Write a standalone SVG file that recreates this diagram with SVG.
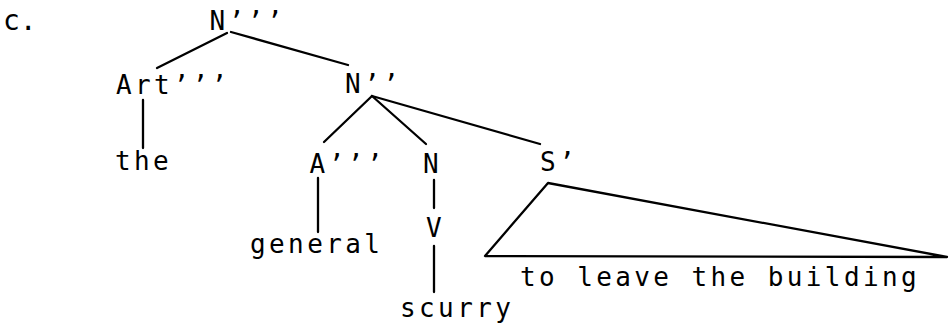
<svg xmlns="http://www.w3.org/2000/svg" width="952" height="327" viewBox="0 0 952 327">
<style>
  text { font-family: "DejaVu Sans Mono", "Liberation Mono", monospace; font-size: 26px; letter-spacing: 3.4px; fill: #000; }
  .conn line, .conn polygon { stroke: #000; stroke-width: 2.3; fill: none; stroke-linecap: round; stroke-linejoin: round; }
</style>
<rect width="952" height="327" fill="#fff"/>
<g id="label-c"><text x="3" y="30" style="font-size:28px;letter-spacing:0">c.</text></g>
<g id="n-Nbar3"><text x="209.5" y="30">N’’’</text></g>
<g id="n-Art"><text x="116" y="94">Art’’’</text></g>
<g id="n-Nbar2"><text x="345" y="93">N’’</text></g>
<g id="n-the"><text x="115" y="170">the</text></g>
<g id="n-A"><text x="309.5" y="173">A’’’</text></g>
<g id="n-N"><text x="423" y="173">N</text></g>
<g id="n-S"><text x="540" y="171">S’</text></g>
<g id="n-general"><text x="250" y="253">general</text></g>
<g id="n-V"><text x="426" y="237">V</text></g>
<g id="n-scurry"><text x="400" y="317">scurry</text></g>
<g id="n-phrase"><text x="520" y="286">to leave the building</text></g>
<g class="conn" id="connectors">
  <line x1="227" y1="33" x2="157" y2="68"/>
  <line x1="231" y1="32" x2="348" y2="65"/>
  <line x1="143" y1="100" x2="143" y2="148"/>
  <line x1="372" y1="96" x2="324" y2="142"/>
  <line x1="372" y1="96" x2="426" y2="144"/>
  <line x1="372" y1="96" x2="540" y2="144"/>
  <line x1="318" y1="178" x2="318" y2="232"/>
  <line x1="434" y1="180" x2="434" y2="208"/>
  <line x1="434" y1="246" x2="434" y2="292"/>
  <polygon points="548,183 485,256 947,257"/>
</g>
</svg>
